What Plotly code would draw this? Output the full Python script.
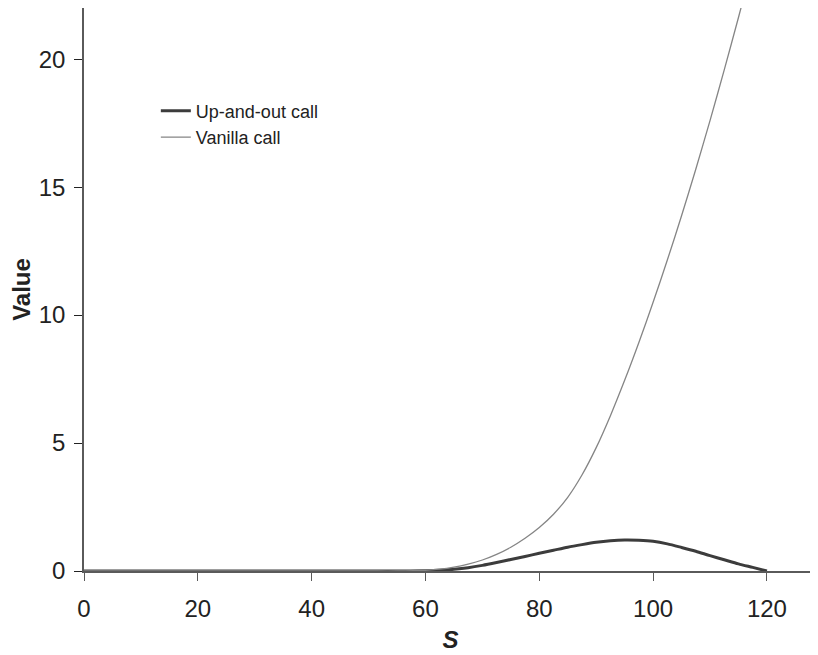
import plotly.graph_objects as go

# Spot price S
s_vals = [0, 10, 20, 30, 40, 50, 55, 60, 62.5, 65, 67.5, 70, 72.5, 75, 77.5, 80,
          82.5, 85, 87.5, 90, 92.5, 95, 97.5, 100, 102.5, 105, 107.5, 110,
          112.5, 115, 117.5, 120]

vanilla_call = [0, 0, 0, 0, 0, 0, 0.0, 0.03, 0.07, 0.15, 0.27, 0.43, 0.65, 0.93, 1.28, 1.7,
                2.22, 2.88, 3.75, 4.82, 6.07, 7.45, 8.93, 10.5, 12.15, 13.88, 15.7, 17.6,
                19.58, 21.63, 23.73, 25.88]

up_and_out_call = [0, 0, 0, 0, 0, 0, 0.0, 0.01, 0.03, 0.07, 0.13, 0.22, 0.33, 0.45, 0.57, 0.69,
                   0.81, 0.93, 1.03, 1.12, 1.18, 1.21, 1.2, 1.16, 1.06, 0.92, 0.77, 0.6,
                   0.44, 0.28, 0.14, 0.0]

x_ticks = [0, 20, 40, 60, 80, 100, 120]
y_ticks = [0, 5, 10, 15, 20]

FONT = "Liberation Sans, Arial, sans-serif"

fig = go.Figure()
fig.add_trace(go.Scatter(
    x=s_vals, y=up_and_out_call, mode="lines", name="Up-and-out call",
    line=dict(color="#3c3c3c", width=3, shape="spline", smoothing=0.8),
))
fig.add_trace(go.Scatter(
    x=s_vals, y=vanilla_call, mode="lines", name="Vanilla call",
    line=dict(color="#858585", width=1.3, shape="spline", smoothing=0.8),
))

fig.update_layout(
    width=810, height=647,
    margin=dict(l=76, r=1, t=0, b=84),
    plot_bgcolor="white", paper_bgcolor="white",
    font=dict(family=FONT, color="#222222", size=24),
    showlegend=True,
    legend=dict(
        x=0.098, y=0.85, xanchor="left", yanchor="top",
        font=dict(family=FONT, size=18, color="#222222"),
        bgcolor="rgba(0,0,0,0)", tracegroupgap=0,
    ),
    xaxis=dict(
        range=[0, 128.8], tickvals=x_ticks, ticktext=[str(v) for v in x_ticks],
        showgrid=False, zeroline=False, showline=True, linecolor="#5a5a5a", linewidth=1.5,
        ticks="outside", ticklen=8, tickcolor="#5a5a5a", tickwidth=1.3,
        ticklabelstandoff=7, automargin=False,
        title=dict(text="<b><i>S</i></b>", font=dict(family=FONT, size=24), standoff=11),
    ),
    yaxis=dict(
        range=[0, 22], tickvals=y_ticks, ticktext=[str(v) for v in y_ticks],
        showgrid=False, zeroline=False, showline=True, linecolor="#5a5a5a", linewidth=1.5,
        ticks="outside", ticklen=8, tickcolor="#222222", tickwidth=1.3,
        ticklabelstandoff=4, automargin=False,
        title=dict(text="<b>Value</b>", font=dict(family=FONT, size=24), standoff=2),
    ),
)

fig.write_html("out.html")
